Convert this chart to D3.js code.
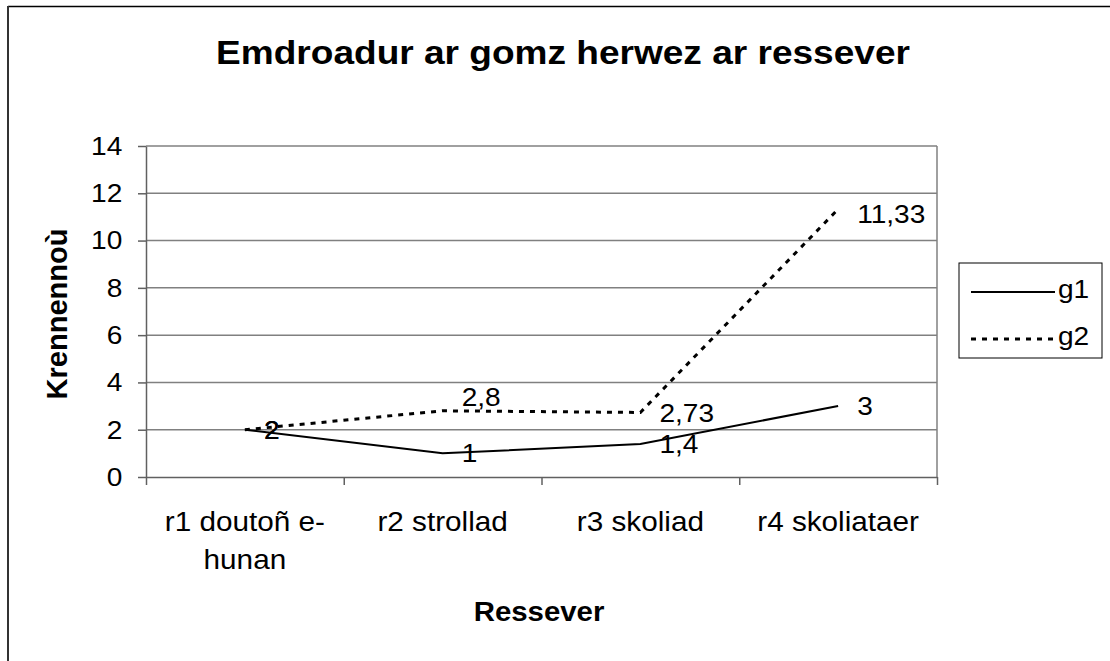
<!DOCTYPE html>
<html>
<head>
<meta charset="utf-8">
<script src="https://cdn.jsdelivr.net/npm/d3@7"></script>
<style>
  body { margin: 0; background: #fff; }
  svg { display: block; font-family: "Liberation Sans", Arial, sans-serif; }
</style>
</head>
<body>
<svg id="chart"></svg>
<script>
const width = 1110;
const height = 661;

const title = 'Emdroadur ar gomz herwez ar ressever';
const xTitle = 'Ressever';
const yTitle = 'Krennennoù';
const categories = ['r1 doutoñ e-hunan', 'r2 strollad', 'r3 skoliad', 'r4 skoliataer'];
const seriesNames = ['g1', 'g2'];
const g1Values = [2, 1, 1.4, 3];
const g2Values = [2, 2.8, 2.73, 11.33];
const yTicks = [0, 2, 4, 6, 8, 10, 12, 14];

const plot = {left: 146, right: 937, top: 146, bottom: 477};
const stretch = 1.08;   // the reference text is a bit wider than plain Arial
const font = '"Liberation Sans", Arial, sans-serif';
const fmt = d => String(d).replace('.', ',');

const series = [
    {name: seriesNames[0], values: g1Values, dash: null, width: 2},
    {name: seriesNames[1], values: g2Values, dash: '5,6', width: 3}
];

const svg = d3.select('#chart')
    .attr('width', width)
    .attr('height', height);

// outer frame (only top and left edges are visible)
svg.append('line')
    .attr('x1', 8).attr('x2', width).attr('y1', 6.5).attr('y2', 6.5)
    .attr('stroke', '#000').attr('stroke-width', 1.3);
svg.append('line')
    .attr('x1', 8).attr('x2', 8).attr('y1', 6).attr('y2', height)
    .attr('stroke', '#333').attr('stroke-width', 2);

const x = d3.scaleBand().domain(categories).range([plot.left, plot.right]);
const y = d3.scaleLinear().domain([0, 14]).range([plot.bottom, plot.top]);
const cx = c => x(c) + x.bandwidth() / 2;

// gridlines
svg.append('g').selectAll('line')
    .data(yTicks.filter(d => d > 0))
    .join('line')
    .attr('x1', plot.left).attr('x2', plot.right)
    .attr('y1', d => y(d)).attr('y2', d => y(d))
    .attr('stroke', '#808080').attr('stroke-width', 1.5);

svg.append('line')
    .attr('x1', plot.right).attr('x2', plot.right)
    .attr('y1', plot.top).attr('y2', plot.bottom)
    .attr('stroke', '#808080').attr('stroke-width', 1.5);

// y axis
const yAxis = svg.append('g')
    .attr('transform', `translate(${plot.left},0)`)
    .call(d3.axisLeft(y).tickValues(yTicks).tickSize(8).tickSizeOuter(0).tickPadding(14).tickFormat(fmt))
    .attr('font-size', 26).attr('font-family', font);
yAxis.selectAll('path, line').attr('stroke', '#606060').attr('stroke-width', 1.5);
yAxis.selectAll('text').attr('fill', '#000').attr('transform', `scale(${stretch},1)`);

// x axis: tick marks on category boundaries
const xEdges = d3.scaleLinear().domain([0, categories.length]).range([plot.left, plot.right]);
const xAxis = svg.append('g')
    .attr('transform', `translate(0,${plot.bottom})`)
    .call(d3.axisBottom(xEdges).ticks(categories.length).tickSize(8).tickSizeOuter(0).tickFormat(''));
xAxis.selectAll('path, line').attr('stroke', '#606060').attr('stroke-width', 1.5);

function wrapLabel(sel, label, maxWidth) {
    const tokens = label.split(/(?<=[ -])/);
    const lines = [];
    let cur = '';
    tokens.forEach(t => {
        sel.text((cur + t).trim());
        if (cur && sel.node().getComputedTextLength() * stretch > maxWidth) {
            lines.push(cur.trim());
            cur = t;
        } else {
            cur = cur + t;
        }
    });
    lines.push(cur.trim());
    sel.text(null);
    lines.forEach((l, i) => sel.append('tspan').attr('x', 0).attr('dy', i ? 38 : 0).text(l));
}

svg.append('g').selectAll('text')
    .data(categories)
    .join('text')
    .attr('transform', d => `translate(${cx(d)},531) scale(${stretch},1)`)
    .attr('text-anchor', 'middle')
    .attr('font-size', 27.5)
    .each(function(d) { wrapLabel(d3.select(this), d, x.bandwidth() - 10); });

// lines
const line = d3.line()
    .x((d, i) => cx(categories[i]))
    .y(d => y(d));

svg.append('g').selectAll('path')
    .data(series)
    .join('path')
    .attr('d', d => line(d.values))
    .attr('fill', 'none')
    .attr('stroke', '#000')
    .attr('stroke-width', d => d.width)
    .attr('stroke-dasharray', d => d.dash);

// data labels, to the right of each point; Excel shifted "2,8" up and "11,33" down a little
series.forEach(s => {
    svg.append('g').selectAll('text')
        .data(s.values)
        .join('text')
        .attr('transform', (d, i) => {
            let lift = 0;
            if (s.name === 'g2' && i === 1) lift = 14;
            if (s.name === 'g2' && i === 3) lift = -5;
            return `translate(${cx(categories[i]) + 19},${y(d) - lift}) scale(${stretch},1)`;
        })
        .attr('dy', '0.35em')
        .attr('font-size', 26)
        .text(fmt);
});

// title
svg.append('text')
    .attr('transform', 'translate(563,64) scale(1.09,1)')
    .attr('text-anchor', 'middle')
    .attr('font-size', 34)
    .attr('font-weight', 'bold')
    .text(title);

svg.append('text')
    .attr('transform', 'translate(67,314) rotate(-90)')
    .attr('text-anchor', 'middle')
    .attr('font-size', 29)
    .attr('font-weight', 'bold')
    .text(yTitle);

svg.append('text')
    .attr('transform', 'translate(539,621) scale(1.05,1)')
    .attr('text-anchor', 'middle')
    .attr('font-size', 28)
    .attr('font-weight', 'bold')
    .text(xTitle);

// legend
const legend = svg.append('g');
legend.append('rect')
    .attr('x', 959).attr('y', 263).attr('width', 143).attr('height', 95)
    .attr('fill', '#fff').attr('stroke', '#000').attr('stroke-width', 1);

const legendRows = legend.selectAll('g.row')
    .data(series)
    .join('g')
    .attr('class', 'row')
    .attr('transform', (d, i) => `translate(0,${292 + i * 47})`);

legendRows.append('line')
    .attr('x1', 971).attr('x2', 1055)
    .attr('stroke', '#000')
    .attr('stroke-width', d => d.width)
    .attr('stroke-dasharray', d => d.dash);

legendRows.append('text')
    .attr('transform', `translate(1058,6) scale(${stretch},1)`)
    .attr('font-size', 26)
    .text(d => d.name);
</script>
</body>
</html>
